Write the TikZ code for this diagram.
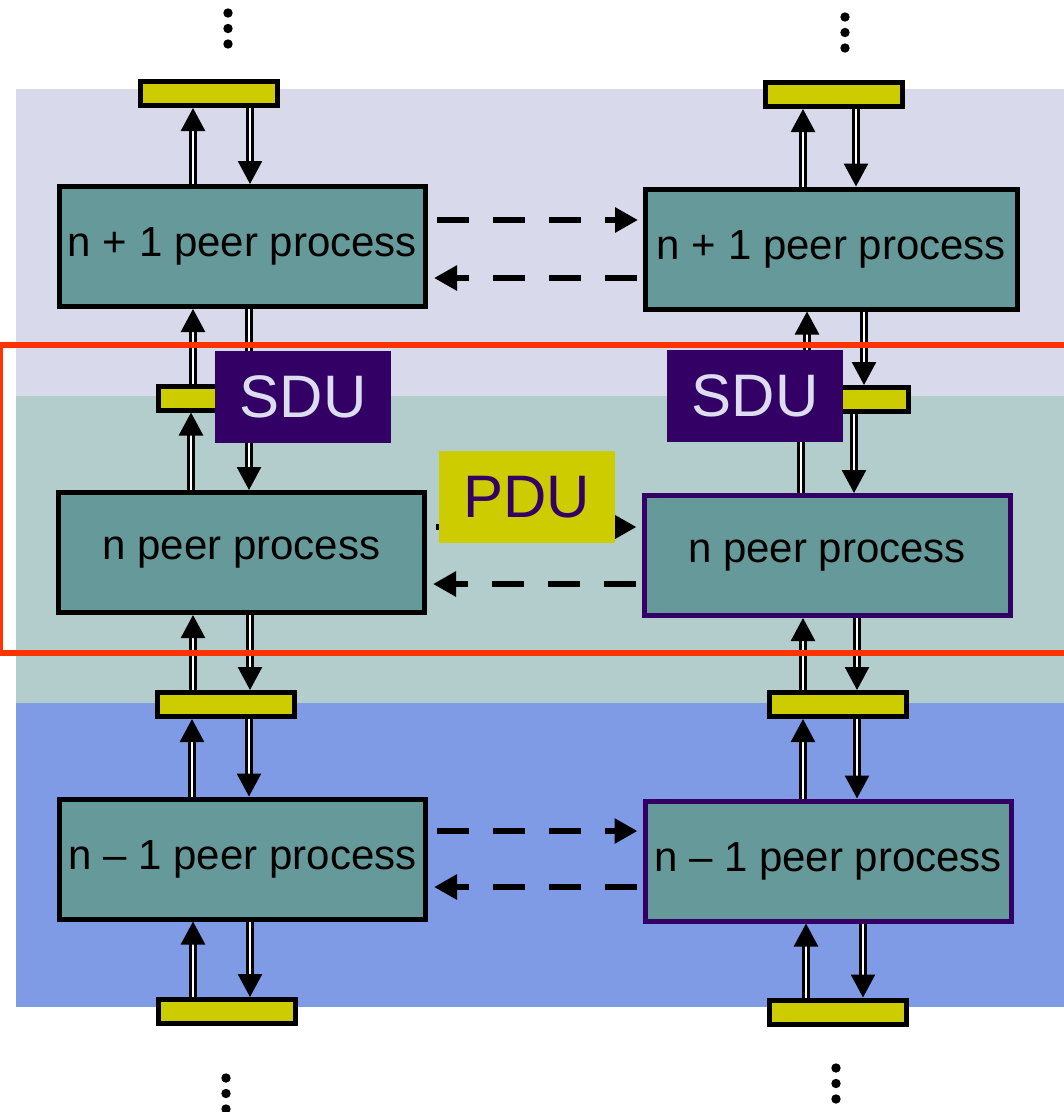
\documentclass[tikz,border=0pt]{standalone}
\usepackage{fontspec}
\setmainfont{Liberation Sans}
\usetikzlibrary{arrows.meta}

\begin{document}
\begin{tikzpicture}[x=1pt, y=-1pt,
    proc/.style={draw=black, line width=5pt, fill=tealc, minimum width=366pt,
        minimum height=120pt, inner sep=0pt, font=\fontsize{42}{50}\selectfont},
    bar/.style={draw=black, line width=5pt, fill=yelc, minimum width=137pt,
        minimum height=24pt, inner sep=0pt},
    unit/.style={minimum width=176pt, minimum height=92pt, inner sep=0pt,
        font=\fontsize{60}{70}\selectfont},
    dup/.style={double, double distance=2.8pt, line width=2.6pt,
        -{Triangle[length=23pt, width=24pt]}},
    peer/.style={line width=6pt, dash pattern=on 32pt off 24pt,
        -{Triangle[length=23pt, width=24pt]}}]
    \colorlet{lavc}{rgb,255:red,217;green,217;blue,236}
    \colorlet{midc}{rgb,255:red,179;green,204;blue,204}
    \colorlet{lowc}{rgb,255:red,127;green,155;blue,230}
    \colorlet{tealc}{rgb,255:red,102;green,153;blue,153}
    \colorlet{yelc}{rgb,255:red,204;green,204;blue,0}
    \colorlet{purc}{rgb,255:red,51;green,0;blue,102}
    \colorlet{sduc}{rgb,255:red,221;green,221;blue,240}
    \colorlet{redc}{rgb,255:red,255;green,51;blue,0}

    \clip (0,0) rectangle (1064,1112);

    % Layer bands
    \fill[lavc] (16,89) rectangle (1064,396);
    \fill[midc] (16,396) rectangle (1064,703);
    \fill[lowc] (16,703) rectangle (1064,1007);

    % Peer processes
    \node[proc] (pA) at (242.5,246.5) {n + 1 peer process};
    \node[proc, minimum width=372pt] (pB) at (831.5,249) {n + 1 peer process};
    \node[proc] (pC) at (241.5,552.5) {n peer process};
    \node[proc, draw=purc] (pD) at (827,555.5) {n peer process};
    \node[proc] (pE) at (242.5,859) {n -- 1 peer process};
    \node[proc, draw=purc] (pF) at (828,861) {n -- 1 peer process};

    % Service access points
    \node[bar] (bA) at (209,93.5) {};
    \node[bar] (bB) at (833.5,94.5) {};
    \node[bar] (bC) at (226.5,398) {};
    \node[bar] (bD) at (839.5,399.5) {};
    \node[bar] (bE) at (226,704.5) {};
    \node[bar] (bF) at (838,704.5) {};
    \node[bar] (bG) at (226.5,1011.5) {};
    \node[bar] (bH) at (838,1012) {};

    % Up and down the stack
    \foreach \lo/\hi/\x in {pA/bA/193, bC/pA/193, pC/bC/191, bE/pC/193, pE/bE/192, bG/pE/193,
                            pB/bB/803, bD/pB/807, pD/bD/801, bF/pD/803, pF/bF/803, bH/pF/806}
        \draw[dup] (\lo.north -| \x,0) -- (\hi.south -| \x,0);
    \foreach \hi/\lo/\x in {bA/pA/250, pA/bC/249, bC/pC/249, pC/bE/250, bE/pE/249, pE/bG/250,
                            bB/pB/856, pB/bD/864, bD/pD/854, pD/bF/857, bF/pF/857, pF/bH/863}
        \draw[dup] (\hi.south -| \x,0) -- (\lo.north -| \x,0);

    % Peer to peer
    \foreach \a/\b/\y in {pA/pB/220, pC/pD/527, pE/pF/831}
        \draw[peer, shorten <=9pt, shorten >=5pt] (\a.east |- 0,\y) -- (\b.west |- 0,\y);
    \foreach \a/\b/\y in {pB/pA/278, pD/pC/584, pF/pE/887}
        \draw[peer, shorten <=6pt, shorten >=6pt] (\a.west |- 0,\y) -- (\b.east |- 0,\y);

    % Layer n frame
    \draw[redc, line width=5.5pt] (0.5,345) rectangle (1080,653);

    % Data units
    \node[unit, fill=purc, text=sduc] (sduL) at (303,397) {SDU};
    \node[unit, fill=purc, text=sduc] (sduR) at (755,395.5) {SDU};
    \node[unit, fill=yelc, text=purc] (pdu) at (526.5,497) {PDU};

    % More layers
    \foreach \x/\y in {228/13, 845/17, 226/1078, 836/1068}
        \foreach \k in {0,1,2}
            \fill (\x,\y+15.5*\k) circle (4.7);
\end{tikzpicture}
\end{document}
